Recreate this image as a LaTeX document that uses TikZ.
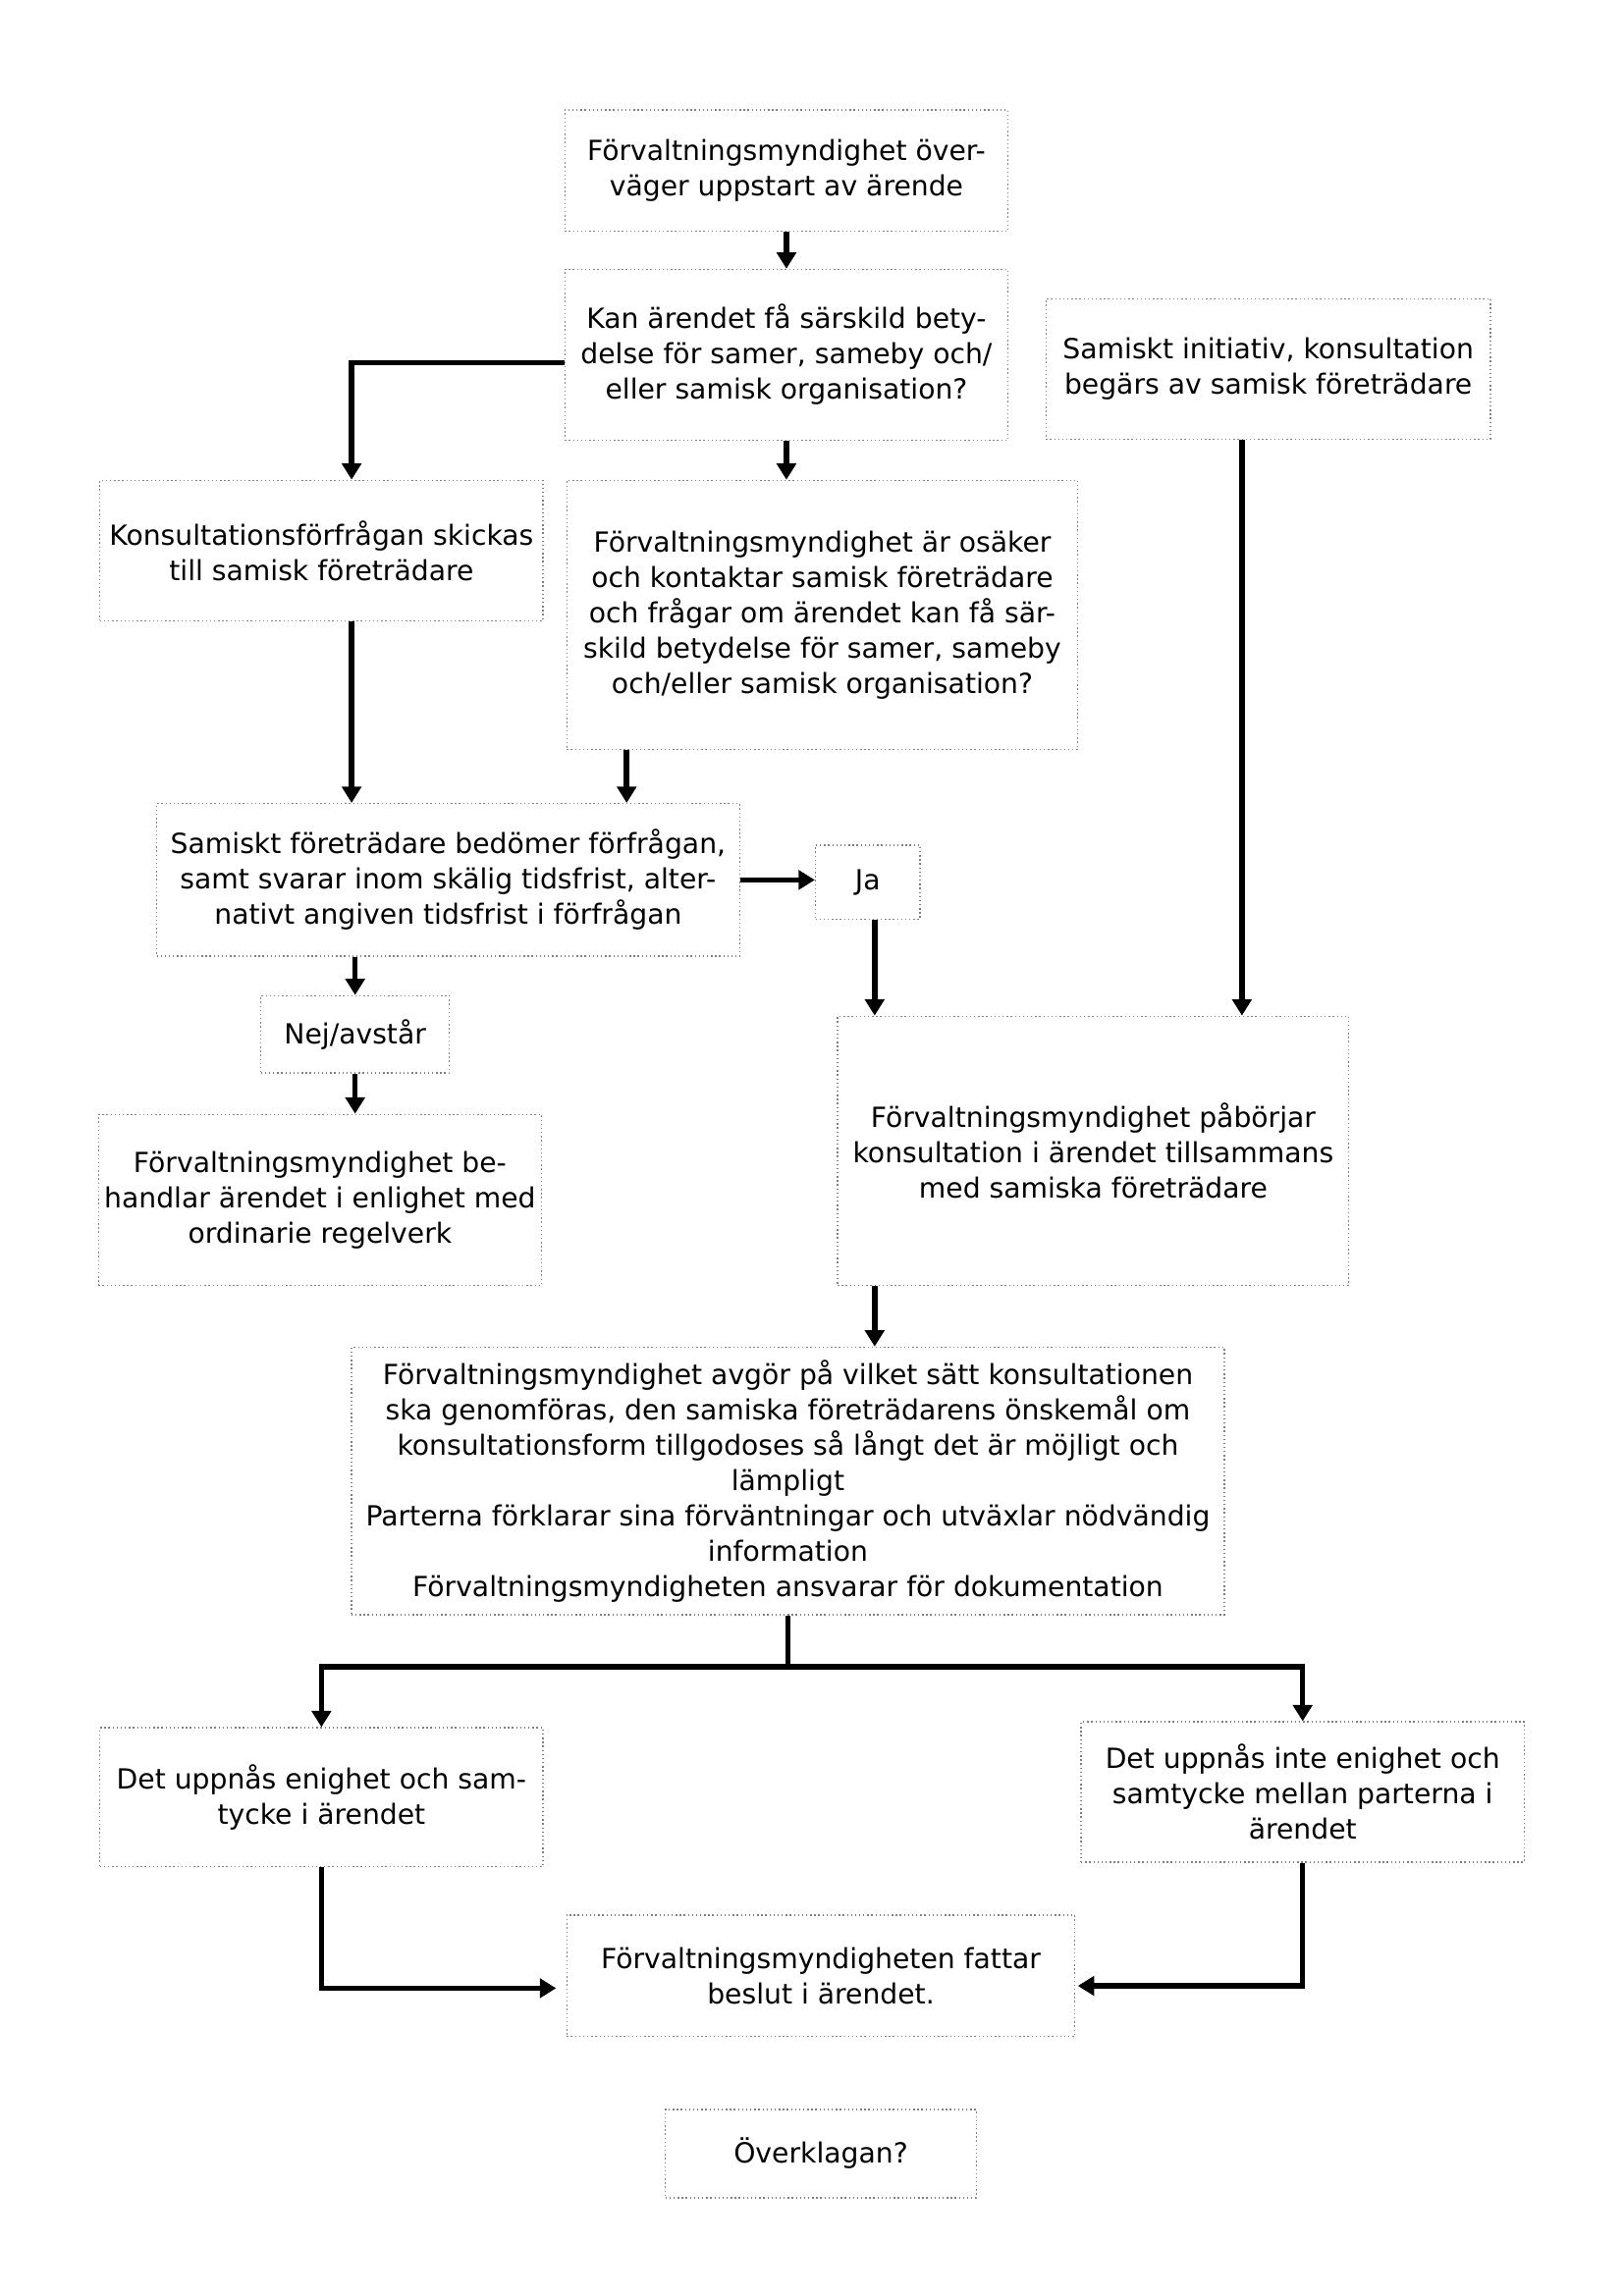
\documentclass[tikz,border=0pt]{standalone}
\usepackage{fontspec}
\setmainfont{DejaVu Sans}
\usetikzlibrary{positioning,arrows.meta}
\begin{document}
\begin{tikzpicture}[x=0.18939mm, y=-0.18939mm,
	main/.style = {draw=gray, densely dotted, line width=0.5pt, inner sep=0pt, align=center, font=\fontsize{10.2}{13}\selectfont},
	wide/.style = {minimum width=57.3mm},
	arr/.style = {solid, line width=2pt, -{Triangle[length=6pt,width=7pt]}},
	line/.style = {solid, line width=2pt}]
	\useasboundingbox (0,0) rectangle (1108.8,1568.2);
		\node[main, wide, minimum height=15.7mm] (0) at (537,116.5) {Förvaltningsmyndighet över-\\väger uppstart av ärende};
		\node[main, wide, minimum height=22.1mm] (1) [below=4.76mm of 0] {Kan ärendet få särskild bety-\\delse för samer, sameby och/\\eller samisk organisation?};
		\node[main, minimum width=57.5mm, minimum height=18.15mm] (2) at (866,252) {Samiskt initiativ, konsultation\\begärs av samisk företrädare};
		\node[main, wide, minimum height=18.15mm] (3) at (219.5,376) {Konsultationsförfrågan skickas\\till samisk företrädare};
		\node[main, minimum width=66.1mm, minimum height=34.8mm] (4) at (561.5,420) {Förvaltningsmyndighet är osäker\\och kontaktar samisk företrädare\\och frågar om ärendet kan få sär-\\skild betydelse för samer, sameby\\och/eller samisk organisation?};
		\node[main, minimum width=75.4mm, minimum height=19.75mm] (5) at (306,601) {Samiskt företrädare bedömer förfrågan,\\samt svarar inom skälig tidsfrist, alter-\\nativt angiven tidsfrist i förfrågan};
		\node[main, minimum width=13.5mm, minimum height=9.6mm] (6) at (592.5,602.5) {Ja};
		\node[main, minimum width=24.4mm, minimum height=10mm] (7) at (242.5,706.5) {Nej/avstår};
		\node[main, wide, minimum height=22.1mm] (8) at (218.5,819.5) {Förvaltningsmyndighet be-\\handlar ärendet i enlighet med\\ordinarie regelverk};
		\node[main, minimum width=66.1mm, minimum height=34.8mm] (9) at (746.5,786) {Förvaltningsmyndighet påbörjar\\konsultation i ärendet tillsammans\\med samiska företrädare};
		\node[main, minimum width=112.9mm, minimum height=34.6mm] (10) at (538,1011.5) {Förvaltningsmyndighet avgör på vilket sätt konsultationen\\ska genomföras, den samiska företrädarens önskemål om\\konsultationsform tillgodoses så långt det är möjligt och\\lämpligt\\Parterna förklarar sina förväntningar och utväxlar nödvändig\\information\\Förvaltningsmyndigheten ansvarar för dokumentation};
		\node[main, wide, minimum height=17.95mm] (11) at (219.5,1227.5) {Det uppnås enighet och sam-\\tycke i ärendet};
		\node[main, wide, minimum height=18.15mm] (12) at (889.5,1224) {Det uppnås inte enighet och\\samtycke mellan parterna i\\ärendet};
		\node[main, minimum width=65.7mm, minimum height=15.7mm] (13) at (560.5,1349.5) {Förvaltningsmyndigheten fattar\\beslut i ärendet.};
		\node[main, minimum width=40.2mm, minimum height=11.4mm] (14) [below=9.28mm of 13] {Överklagan?};
		\draw[arr] (0) -- (1);
		\draw[arr] ([yshift=-1mm]1.west) -| ([xshift=3.9mm]3.north);
		\draw[arr] (1) -- (1.south |- 4.north);
		\draw[arr] ([xshift=-3.4mm]2.south) -- ([xshift=-3.4mm]2.south |- 9.north);
		\draw[arr] ([xshift=3.9mm]3.south) -- ([xshift=3.9mm]3.south |- 5.north);
		\draw[arr] ([xshift=-25.3mm]4.south) -- ([xshift=-25.3mm]4.south |- 5.north);
		\draw[arr] (5.east) -- (5.east -| 6.west);
		\draw[arr] ([xshift=0.9mm]6.south) -- ([xshift=0.9mm]6.south |- 9.north);
		\draw[arr] (7.north |- 5.south) -- (7.north);
		\draw[arr] (7.south) -- (7.south |- 8.north);
		\draw[arr] ([xshift=0.9mm]6.south |- 9.south) -- ([xshift=0.9mm]6.south |- 10.north);
		\draw[line] (10.south) -- ++(0,35) coordinate (s);
		\draw[arr] (s) -| (11.north);
		\draw[arr] (s) -| (12.north);
		\draw[arr] (11.south) |- ([xshift=-1.3mm,yshift=-1.6mm]13.west);
		\draw[arr] (12.south) |- ([xshift=0.3mm,yshift=-1.3mm]13.east);
	\end{tikzpicture}
\end{document}
